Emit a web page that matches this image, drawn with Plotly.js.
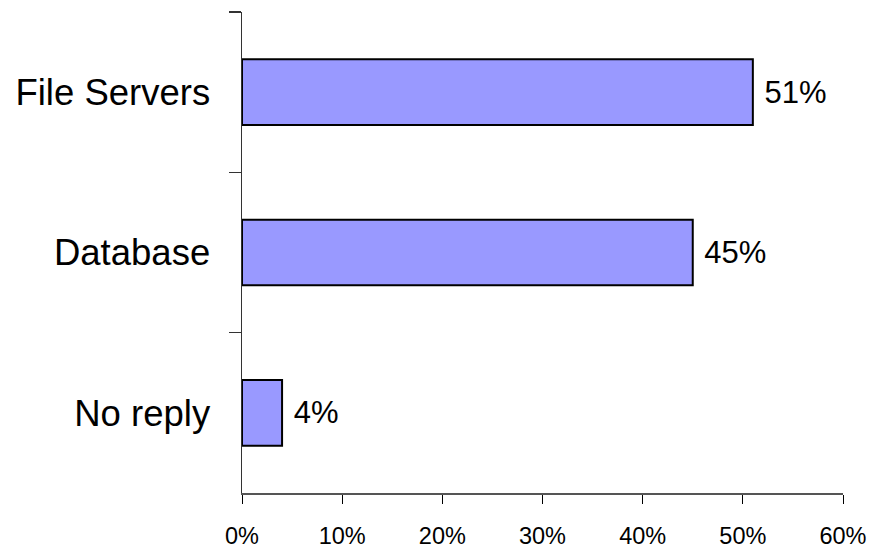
<!DOCTYPE html>
<html>
<head>
<meta charset="utf-8">
<script src="https://cdn.plot.ly/plotly-3.0.1.min.js"></script>
<style>
  html, body { margin: 0; padding: 0; background: #fff; }
  #chart { width: 870px; height: 548px; }
</style>
</head>
<body>
<div id="chart"></div>
<script>
// Share of replies per storage category (percent)
const categories = ["File Servers", "Database", "No reply"];
const shares = [51, 45, 4];
const xTickValues = [0, 10, 20, 30, 40, 50, 60];
const xTickLabels = ["0%", "10%", "20%", "30%", "40%", "50%", "60%"];

const fontFamily = "Liberation Sans, Arial, sans-serif";

const trace = {
  type: "bar",
  orientation: "h",
  y: categories,
  x: shares,
  width: 0.41,
  marker: { color: "#9999FF", line: { color: "#000000", width: 2 } },
  // leading space keeps the value label a little away from the bar end
  text: shares.map(v => "\u00A0" + v + "%"),
  textposition: "outside",
  textfont: { family: fontFamily, size: 31, color: "#000" },
  cliponaxis: false,
  hoverinfo: "none"
};

const layout = {
  width: 870,
  height: 548,
  margin: { l: 242, r: 27, t: 12, b: 55 },
  paper_bgcolor: "#fff",
  plot_bgcolor: "#fff",
  showlegend: false,
  font: { family: fontFamily, color: "#000" },
  xaxis: {
    range: [0, 60],
    tickvals: xTickValues,
    ticktext: xTickLabels,
    ticks: "outside",
    ticklen: 9,
    tickwidth: 1,
    tickcolor: "#000",
    showline: true,
    linecolor: "#555",
    linewidth: 1.5,
    showgrid: false,
    zeroline: false,
    tickfont: { family: fontFamily, size: 23.5, color: "#000" },
    ticklabelstandoff: 12
  },
  yaxis: {
    type: "category",
    categoryorder: "array",
    categoryarray: categories,
    autorange: "reversed",
    tickson: "boundaries",
    ticks: "outside",
    ticklen: 12,
    tickwidth: 1.5,
    tickcolor: "#333",
    showline: true,
    linecolor: "#333",
    linewidth: 1.5,
    showgrid: false,
    zeroline: false,
    tickfont: { family: fontFamily, size: 36.5, color: "#000" },
    ticklabelstandoff: 23
  }
};

Plotly.newPlot("chart", [trace], layout, { staticPlot: true, displayModeBar: false });
</script>
</body>
</html>
